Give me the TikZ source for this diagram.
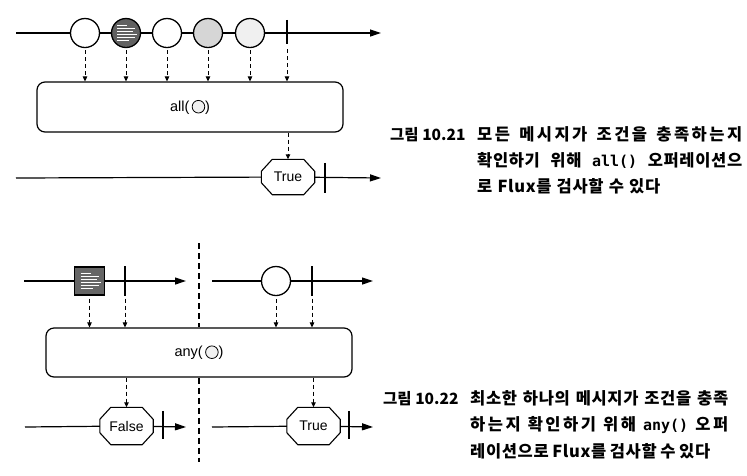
\documentclass[tikz,border=0pt]{standalone}
\usepackage{fontspec}
\setmainfont{Liberation Sans}
\newfontfamily\kr{Noto Sans CJK KR}
\newfontfamily\krsp{Noto Sans CJK KR}[LetterSpace=4]
\newfontfamily\krwide{Noto Sans CJK KR}[LetterSpace=15]
\newfontfamily\krmono{DejaVu Sans Mono}
\usetikzlibrary{arrows.meta,calc}
\newcommand\ringmark{\tikz[baseline=-4.3pt]\draw[line width=0.8pt,fill=black!6] (0,0) circle (6.3pt);}
\newcommand\fitline[2]{\makebox[#1][s]{#2}}
\newcommand\codefrag[1]{{\krmono\bfseries\fontsize{15}{15}\selectfont #1}}
\newcommand\octo[1]{\draw[resline]
  ($(#1.north west)+(11pt,0pt)$) -- ($(#1.north east)+(-11pt,0pt)$) --
  ($(#1.north east)+(0pt,-12pt)$) -- ($(#1.south east)+(0pt,12pt)$) --
  ($(#1.south east)+(-11pt,0pt)$) -- ($(#1.south west)+(11pt,0pt)$) --
  ($(#1.south west)+(0pt,12pt)$) -- ($(#1.north west)+(0pt,-12pt)$) -- cycle;}
\begin{document}
\begin{tikzpicture}[x=1pt,y=-1pt,
  tl/.style={line width=1.2pt, -{Triangle[length=11pt,width=7pt]}},
  tlplain/.style={line width=1.2pt},
  ev/.style={circle, draw, line width=1.3pt, minimum size=29pt, inner sep=0pt, fill=white},
  sqev/.style={rectangle, draw, line width=1.2pt, minimum width=30pt, minimum height=28pt, inner sep=0pt, fill=black!60},
  barnode/.style={inner sep=0pt, minimum width=0pt, minimum height=#1},
  barline/.style={line width=2pt},
  darr/.style={line width=1pt, dash pattern=on 4pt off 3pt, -{Triangle[length=5pt,width=4.5pt]}},
  divider/.style={line width=1.1pt, dash pattern=on 6pt off 4pt},
  opbox/.style={draw, line width=1.2pt, rounded corners=8pt, minimum width=306pt, font=\fontsize{14.5}{16}\selectfont},
  res/.style={rectangle, minimum width=53pt, minimum height=35pt, inner sep=0pt, font=\fontsize{14}{16}\selectfont},
  resline/.style={draw, line width=1.1pt, fill=white},
  capfont/.style={font=\kr\bfseries\fontsize{15.5}{16}\selectfont, inner sep=0pt},
  bodyfont/.style={font=\krsp\bfseries\fontsize{16.5}{17}\selectfont, inner sep=0pt},
  widefont/.style={font=\krwide\bfseries\fontsize{16.5}{17}\selectfont, inner sep=0pt},
  streaks/.style={path picture={
    \foreach \yy/\ll in {-7/12,-4/18,-1/20,2/16,5/18,8/10}
      \draw[white, line width=0.9pt] ($(path picture bounding box.center)+(-9pt,\yy pt)$) -- ++(\ll pt,0pt);}}
]
\useasboundingbox (0,0) rectangle (747,475);

% ---------- top: all() ----------
\coordinate (s1) at (16,33);
\coordinate (e1) at (381,33);
\node[ev] (c1) at (85,33) {};
\node[ev, fill=black!62, streaks] (c2) at (126,33) {};
\node[ev] (c3) at (167,33) {};
\node[ev, fill=black!16] (c4) at (208,33) {};
\node[ev, fill=black!6] (c5) at (250,33) {};
\node[barnode=24pt] (b1) at (287,32) {};
\draw[tlplain] (s1) -- (c1) -- (c2) -- (c3) -- (c4) -- (c5);
\draw[tl] (c5) -- (e1);
\draw[barline] (b1.north) -- (b1.south);

\node[opbox, minimum height=50pt] (box1) at (190,107) {all(\,\ringmark)};
\foreach \c in {c1,c2,c3,c4,c5}
  \draw[darr] (\c.south) ++(0,2) -- (\c |- box1.north);
\draw[darr] (b1.south) ++(0,5) -- (b1 |- box1.north);

\coordinate (s2) at (16,178);
\coordinate (e2) at (381,178);
\node[res] (r1) at (288,177) {};
\octo{r1}
\node[res] at (r1) {True};
\node[barnode=30pt] (b2) at (325,178) {};
\draw[tlplain] (s2) -- (r1);
\draw[tl] (r1) -- (e2);
\draw[barline] (b2.north) -- (b2.south);
\draw[darr] (box1.south -| r1.north) -- (r1.north);

% caption 10.21
\node[capfont, anchor=base west] (cap1) at (390,140) {그림 10.21};
\node[widefont, anchor=base west] (cap1a) at (477,140) {\fitline{265pt}{모든 메시지가 조건을 충족하는지}};
\node[bodyfont, anchor=base west] (cap1b) at (477,166) {\fitline{265pt}{확인하기 위해 \codefrag{all()} 오퍼레이션으}};
\node[bodyfont, anchor=base west] (cap1c) at (477,192) {\fitline{183pt}{로 Flux를 검사할 수 있다}};

% ---------- bottom: any() ----------
\coordinate (d1) at (199,243);
\coordinate (d2) at (199,462);
\node[opbox, minimum height=49pt] (box2) at (199,352.5) {any(\,\ringmark)};
\draw[divider] (d1) -- (box2.north);
\draw[divider] (box2.south) -- (d2);

\coordinate (s3) at (24,281);
\coordinate (e3) at (186,281);
\node[sqev, streaks] (q1) at (89.5,281) {};
\node[barnode=29pt] (b3) at (125,281) {};
\draw[tlplain] (s3) -- (q1);
\draw[tl] (q1) -- (e3);
\draw[barline] (b3.north) -- (b3.south);

\coordinate (s4) at (212,281);
\coordinate (e4) at (373,281);
\node[ev] (c6) at (276,281) {};
\node[barnode=29pt] (b4) at (312,281) {};
\draw[tlplain] (s4) -- (c6);
\draw[tl] (c6) -- (e4);
\draw[barline] (b4.north) -- (b4.south);

\draw[darr] (q1.south) ++(0,3) -- (q1 |- box2.north);
\draw[darr] (b3.south) ++(0,3) -- (b3 |- box2.north);
\draw[darr] (c6.south) ++(0,3) -- (c6 |- box2.north);
\draw[darr] (b4.south) ++(0,3) -- (b4 |- box2.north);

\coordinate (s5) at (25,427);
\coordinate (e5) at (186,427);
\node[res, minimum height=37pt] (rF) at (126.5,426) {};
\octo{rF}
\node[res] at (rF) {False};
\node[barnode=28pt] (b5) at (163,425) {};
\draw[tlplain] (s5) -- (rF);
\draw[tl] (rF) -- (e5);
\draw[barline] (b5.north) -- (b5.south);
\draw[darr] (box2.south -| rF.north) -- (rF.north);

\coordinate (s6) at (212,427);
\coordinate (e6) at (373,427);
\node[res, minimum height=37pt] (rT) at (313.5,426) {};
\octo{rT}
\node[res] at (rT) {True};
\node[barnode=28pt] (b6) at (349,425) {};
\draw[tlplain] (s6) -- (rT);
\draw[tl] (rT) -- (e6);
\draw[barline] (b6.north) -- (b6.south);
\draw[darr] (box2.south -| rT.north) -- (rT.north);

% caption 10.22
\node[capfont, anchor=base west] (cap2) at (383,404) {그림 10.22};
\node[bodyfont, anchor=base west] (cap2a) at (470,404) {\fitline{258pt}{최소한 하나의 메시지가 조건을 충족}};
\node[widefont, anchor=base west] (cap2b) at (470,430) {\fitline{258pt}{하는지 확인하기 위해 \codefrag{any()} 오퍼}};
\node[bodyfont, anchor=base west] (cap2c) at (470,457) {\fitline{240pt}{레이션으로 Flux를 검사할 수 있다}};
\end{tikzpicture}
\end{document}
